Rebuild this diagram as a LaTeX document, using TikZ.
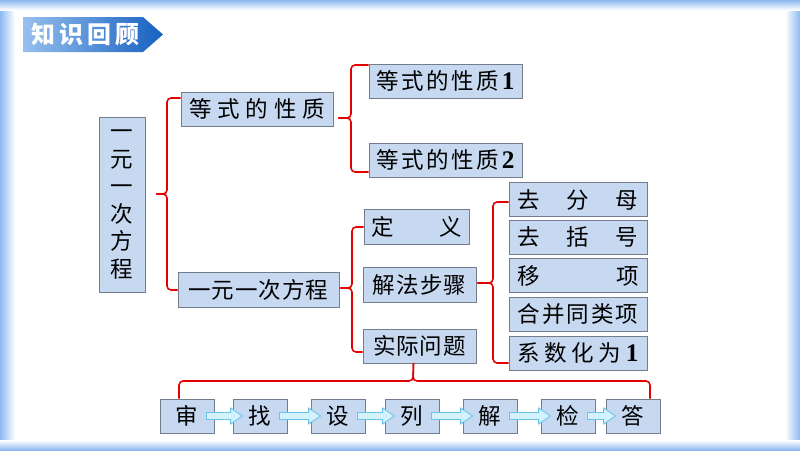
\documentclass[tikz,border=0pt]{standalone}
\usepackage{fontspec}
\setmainfont{Liberation Serif}
\newfontfamily\cjk{Noto Sans CJK SC}
\usetikzlibrary{calc}

\definecolor{boxblue}{RGB}{198,217,241}
\definecolor{boxline}{RGB}{115,125,140}
\definecolor{bracered}{RGB}{228,0,0}
\definecolor{frameblue}{RGB}{140,185,240}
\definecolor{arrfill}{RGB}{212,242,252}
\definecolor{arrline}{RGB}{105,195,232}
\definecolor{titlel}{RGB}{150,192,238}
\definecolor{titler}{RGB}{22,96,192}

\newcommand\pxu{0.025cm}
\newlength\spreadlen
\newcommand\spread[2]{\pgfmathsetlength\spreadlen{#1*0.025cm}\hbox to\spreadlen{#2}}
\newcommand\one{{\rmfamily\bfseries\fontsize{18}{18}\selectfont 1}}
\newcommand\two{{\rmfamily\bfseries\fontsize{18}{18}\selectfont 2}}
% block arrow between two step boxes
\newcommand\flowarrow[2]{%
  \draw[flowarr] ($(#1.east)+(-8,-3.5)$) -- ($(#2.west)+(-2,-3.5)$) -- ($(#2.west)+(-2,-8)$)
    -- ($(#2.west)+(10,0)$) -- ($(#2.west)+(-2,8)$) -- ($(#2.west)+(-2,3.5)$)
    -- ($(#1.east)+(-8,3.5)$) -- cycle;}

\tikzset{
  kbox/.style={draw=boxline, line width=0.6pt, fill=boxblue, inner sep=0pt,
    font=\cjk\fontsize{16}{18}\selectfont},
  redbrace/.style={draw=bracered, line width=1.1pt, rounded corners=0.1cm},
  flowarr/.style={draw=arrline, line width=0.6pt, fill=arrfill}
}

\begin{document}
\begin{tikzpicture}[x=0.025cm, y=-0.025cm]
	\useasboundingbox (0,0) rectangle (800,450);
	\fill[white] (0,0) rectangle (800,450);
	% frame
	\shade[left color=frameblue, right color=white] (0,0) rectangle (15,450);
	\shade[left color=white, right color=frameblue] (785,0) rectangle (800,450);
	\shade[top color=frameblue, bottom color=white] (0,0) rectangle (800,10);
	\shade[top color=white, bottom color=frameblue] (0,440) rectangle (800,450);
	
	% title
	\shade[left color=titlel, right color=titler] (23,17) -- (143,17) -- (163,34.5) -- (143,52) -- (23,52) -- cycle;
	\node[font=\cjk\bfseries\fontsize{17}{19}\selectfont, text=white] (title) at (85,35) {\spread{108}{知\hfill 识\hfill 回\hfill 顾}};
	
	% boxes
	\node[kbox, minimum width=46*\pxu, minimum height=175*\pxu, align=center,
	  font=\cjk\fontsize{16}{19.6}\selectfont] (main) at (122,204.5) {一\\元\\一\\次\\方\\程};
	\node[kbox, minimum width=152*\pxu, minimum height=34*\pxu] (xz) at (257,109) {\spread{136}{等\hfill 式\hfill 的\hfill 性\hfill 质}};
	\node[kbox, minimum width=161*\pxu, minimum height=35*\pxu] (fc) at (258.5,289.5) {\spread{140}{一\hfill 元\hfill 一\hfill 次\hfill 方\hfill 程}};
	
	\node[kbox, minimum width=153*\pxu, minimum height=34*\pxu] (xz1) at (445.5,81) {\spread{138}{等\hfill 式\hfill 的\hfill 性\hfill 质\hfill\one}};
	\node[kbox, minimum width=153*\pxu, minimum height=34*\pxu] (xz2) at (445.5,160) {\spread{138}{等\hfill 式\hfill 的\hfill 性\hfill 质\hfill\two}};
	
	\node[kbox, minimum width=105*\pxu, minimum height=35*\pxu] (dy) at (416.5,226.5) {\spread{90}{定\hfill 义}};
	\node[kbox, minimum width=113*\pxu, minimum height=35*\pxu] (bf) at (419.5,284.5) {\spread{94}{解\hfill 法\hfill 步\hfill 骤}};
	\node[kbox, minimum width=113*\pxu, minimum height=34*\pxu] (sj) at (419.5,346) {\spread{92}{实\hfill 际\hfill 问\hfill 题}};
	
	\node[kbox, minimum width=138*\pxu, minimum height=34*\pxu] (s1) at (578,199.5) {\spread{121}{去\hfill 分\hfill 母}};
	\node[kbox, minimum width=138*\pxu, minimum height=34*\pxu] (s2) at (578,237) {\spread{121}{去\hfill 括\hfill 号}};
	\node[kbox, minimum width=138*\pxu, minimum height=34*\pxu] (s3) at (578,275.5) {\spread{121}{移\hfill 项}};
	\node[kbox, minimum width=138*\pxu, minimum height=34*\pxu] (s4) at (578,314) {\spread{121}{合\hfill 并\hfill 同\hfill 类\hfill 项}};
	\node[kbox, minimum width=138*\pxu, minimum height=34*\pxu] (s5) at (578,353) {\spread{121}{系\hfill 数\hfill 化\hfill 为\hfill\one}};
	
	\node[kbox, minimum width=54*\pxu, minimum height=34*\pxu] (b1) at (187,416) {审};
	\node[kbox, minimum width=54*\pxu, minimum height=34*\pxu] (b2) at (260,416) {找};
	\node[kbox, minimum width=54*\pxu, minimum height=34*\pxu] (b3) at (338,416) {设};
	\node[kbox, minimum width=54*\pxu, minimum height=34*\pxu] (b4) at (412,416) {列};
	\node[kbox, minimum width=54*\pxu, minimum height=34*\pxu] (b5) at (490,416) {解};
	\node[kbox, minimum width=54*\pxu, minimum height=34*\pxu] (b6) at (568,416) {检};
	\node[kbox, minimum width=54*\pxu, minimum height=34*\pxu] (b7) at (633,416) {答};
	
	\flowarrow{b1}{b2}
	\flowarrow{b2}{b3}
	\flowarrow{b3}{b4}
	\flowarrow{b4}{b5}
	\flowarrow{b5}{b6}
	\flowarrow{b6}{b7}
	
	% braces
	\draw[redbrace] (xz.west |- 0,98) -- (167,98) -- (167,194) -- ($(main.east)+(11,-10.5)$);
	\draw[redbrace] ($(main.east)+(11,-10.5)$) -- (167,194) -- (167,290) -- (fc.west |- 0,290);
	
	\draw[redbrace] (xz1.west |- 0,65) -- (351,65) -- (351,118) -- ($(xz.east)+(5,9)$);
	\draw[redbrace] ($(xz.east)+(5,9)$) -- (351,118) -- (351,172) -- (xz2.west |- 0,172);
	
	\draw[redbrace] (dy.west |- 0,227) -- (352,227) -- (352,288) -- ($(fc.east)+(1,-1.5)$);
	\draw[redbrace] ($(fc.east)+(1,-1.5)$) -- (352,288) -- (352,352) -- (sj.west |- 0,352);
	
	\draw[redbrace] (s1.west |- 0,202) -- (493,202) -- (493,283) -- ($(bf.east)+(1,-1.5)$);
	\draw[redbrace] ($(bf.east)+(1,-1.5)$) -- (493,283) -- (493,363) -- (s5.west |- 0,363);
	
	\draw[redbrace] (179,0 |- b1.north) -- (179,381) -- (413,381) -- ($(sj.south)+(-6,0)$);
	\draw[redbrace] ($(sj.south)+(-6,0)$) -- (413,381) -- (650,381) -- (650,0 |- b7.north);
\end{tikzpicture}
\end{document}
